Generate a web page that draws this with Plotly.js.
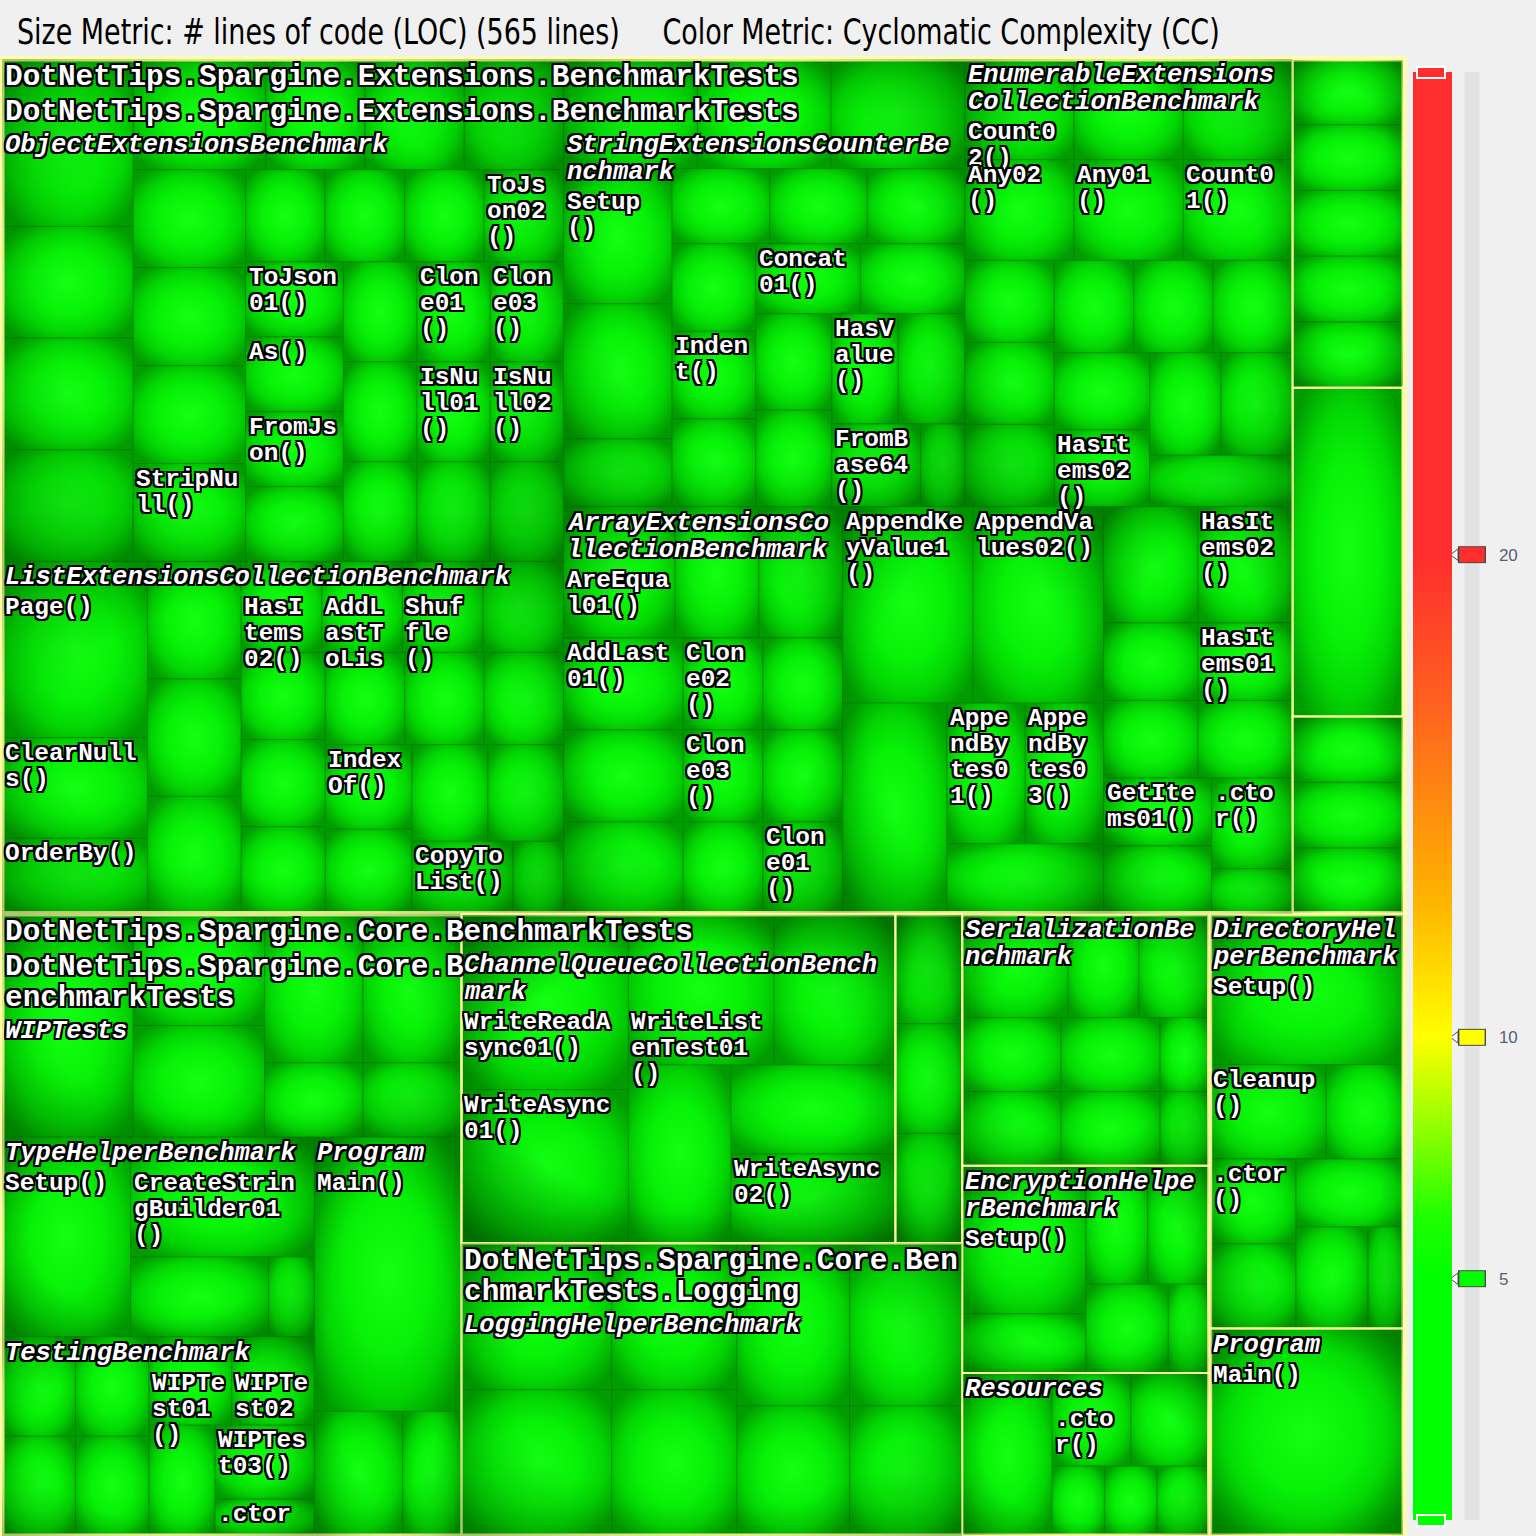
<!DOCTYPE html>
<html>
<head>
<meta charset="utf-8">
<script src="https://cdn.plot.ly/plotly-3.0.1.min.js"></script>
<style>
  html, body { margin: 0; padding: 0; background: #f0f0f0; }
  #chart { width: 1536px; height: 1536px; }
</style>
</head>
<body>
<div id="chart"></div>
<script>
// ---------------- DATA ----------------
const sizeMetricText = 'Size Metric: # lines of code (LOC)';
const colorMetricText = 'Color Metric: Cyclomatic Complexity (CC)';

const asmExtensions = 'DotNetTips.Spargine.Extensions.BenchmarkTests';
const asmCore = 'DotNetTips.Spargine.Core.BenchmarkTests';
const nsExtensions = 'DotNetTips.Spargine.Extensions.BenchmarkTests';
const nsCore = 'DotNetTips.Spargine.Core.BenchmarkTests';
const nsLogging = 'DotNetTips.Spargine.Core.BenchmarkTests.Logging';

// method names ('' = cell whose label is not drawn) and lines of code
const objectNames = ['', '', '', '', '', '', '', '', '', '', '', 'StripNull()', '', '', '', 'ToJson02()', 'ToJson01()', 'As()', 'FromJson()', '', '', 'Clone01()', 'Clone03()', '', '', 'IsNull01()', 'IsNull02()', '', ''];
const objectLoc   = [6, 4, 4, 4, 4, 3, 3, 3, 3, 3, 3, 3, 2, 2, 2, 2, 2, 2, 2, 2, 2, 2, 2, 2, 2, 2, 2, 2, 2];

const stringNames = ['', '', '', 'Setup()', '', '', '', '', '', '', 'Indent()', '', 'Concat01()', '', '', '', 'HasValue()', '', 'FromBase64()', ''];
const stringLoc   = [4, 4, 4, 4, 4, 2, 2, 2, 2, 2, 2, 2, 2, 2, 2, 2, 2, 2, 2, 1];

const enumerableNames = ['Count02()', '', '', 'Any02()', 'Any01()', 'Count01()', '', '', '', '', '', '', '', 'HasItems02()', '', '', ''];
const enumerableLoc   = [3, 3, 3, 3, 3, 3, 2, 2, 2, 2, 2, 2, 2, 2, 2, 2, 2];

const listNames = ['Page()', 'ClearNulls()', 'OrderBy()', '', '', '', 'HasItems02()', 'AddLastToList()', 'Shuffle()', '', '', '', '', '', '', '', 'IndexOf()', '', '', '', 'CopyToList()', ''];
const listLoc   = [7, 4, 3, 3, 3, 3, 2, 2, 2, 2, 2, 2, 2, 2, 2, 2, 2, 2, 2, 2, 2, 1];

const arrayNames = ['AreEqual01()', '', '', 'AddLast01()', '', '', 'Clone02()', '', 'Clone03()', '', '', 'Clone01()'];
const arrayLoc   = [4, 3, 3, 3, 3, 3, 2, 2, 2, 2, 2, 2];

const appendNames = ['AppendKeyValue1()', 'AppendValues02()', '', 'AppendBytes01()', 'AppendBytes03()', ''];
const appendLoc   = [7, 7, 6, 3, 3, 3];
const itemsNames = ['', 'HasItems02()', '', 'HasItems01()', '', '', 'GetItems01()', '', '.ctor()', ''];
const itemsLoc   = [3, 3, 2, 2, 2, 2, 2, 2, 2, 1];

const extStripANames = ['', '', '', '', ''];
const extStripALoc   = [2, 2, 2, 2, 2];
const extStripBNames = ['', '', ''];
const extStripBLoc   = [2, 2, 2];
const extStripCLoc   = 10;

const wipNames = ['', '', '', '', '', '', ''];
const wipLoc   = [8, 4, 4, 4, 4, 2, 2];
const typeHelperNames = ['Setup()', 'CreateStringBuilder01()', '', ''];
const typeHelperLoc   = [7, 6, 3, 1];
const testingNames = ['', '', '', '', 'WIPTest01()', 'WIPTest02()', '', 'WIPTest03()', '.ctor()'];
const testingLoc   = [2, 2, 2, 2, 2, 2, 2, 2, 1];
const programNames = ['Main()', '', ''];
const programLoc   = [11, 3, 2];
const channelNames = ['WriteReadAsync01()', 'WriteAsync01()', 'WriteListenTest01()', '', '', '', 'WriteAsync02()'];
const channelLoc   = [8, 7, 6, 5, 5, 4, 4];
const coreStripNames = ['', '', ''];
const coreStripLoc   = [2, 2, 2];
const loggingNames = ['', '', '', '', '', '', '', ''];
const loggingLoc   = [6, 6, 5, 5, 5, 5, 4, 4];
const serializationNames = ['', '', '', '', '', '', '', '', ''];
const serializationLoc   = [3, 2, 2, 2, 2, 2, 2, 1, 1];
const encryptionNames = ['Setup()', '', '', '', '', ''];
const encryptionLoc   = [5, 2, 2, 2, 2, 1];
const resourcesNames = ['', '.ctor()', '', '', '', ''];
const resourcesLoc   = [4, 2, 2, 1, 1, 1];
const directoryNames = ['Setup()', 'Cleanup()', '', '.ctor()', '', '', '', ''];
const directoryLoc   = [8, 3, 2, 2, 2, 2, 2, 1];
const program2Names = ['Main()'];
const program2Loc   = [11];

// colour metric scale (CC)
const ccRange = [0, 30];
const ccTicks = [5, 10, 20];
const ccHandleColors = ['#00ff00', '#ffff00', '#ff2d2d'];
const ccRangeHandleColors = ['#00ff00', '#ff2d2d'];
const ccColorscale = [
  [0, '#00ff00'], [0.1667, '#00ff00'], [0.21, '#20ff00'], [0.27, '#90ff00'],
  [0.3333, '#ffff00'], [0.427, '#ffb400'], [0.567, '#ff5f20'], [0.6667, '#ff2d2d'], [1, '#ff2d2d']
];

// ---------------- BUILD HIERARCHY ----------------
const ids = [], labels = [], parents = [], values = [], names = [], kinds = [];
function addNode(id, label, parent, value, kind) {
  ids.push(id); labels.push(label); parents.push(parent);
  values.push(value); names.push(label); kinds.push(kind);
}
function addGroup(parent, id, label, mNames, locs, kind) {
  addNode(id, label, parent, 0, kind);
  mNames.forEach((n, i) => addNode(id + '|' + i, n, id, locs[i], 'method'));
}

addNode('A', asmExtensions, '', 0, 'asm');
addNode('A|ns', nsExtensions, 'A', 0, 'ns');
addGroup('A|ns', 'A|obj', 'ObjectExtensionsBenchmark', objectNames, objectLoc, 'class');
addGroup('A|ns', 'A|str', 'StringExtensionsCounterBenchmark', stringNames, stringLoc, 'class');
addGroup('A|ns', 'A|enu', 'EnumerableExtensionsCollectionBenchmark', enumerableNames, enumerableLoc, 'class');
addGroup('A|ns', 'A|lst', 'ListExtensionsCollectionBenchmark', listNames, listLoc, 'class');
addGroup('A|ns', 'A|arr', 'ArrayExtensionsCollectionBenchmark', arrayNames, arrayLoc, 'class');
addGroup('A|ns', 'A|app', '', appendNames, appendLoc, 'class');
addGroup('A|ns', 'A|itm', '', itemsNames, itemsLoc, 'class');
addGroup('A', 'A|sa', '', extStripANames, extStripALoc, 'box');
addGroup('A', 'A|sb', '', extStripBNames, extStripBLoc, 'box');
addNode('A|sc', '', 'A', extStripCLoc, 'boxleaf');

addNode('B', asmCore, '', 0, 'asm');
addNode('B|ns', nsCore, 'B', 0, 'ns');
addGroup('B|ns', 'B|wip', 'WIPTests', wipNames, wipLoc, 'class');
addGroup('B|ns', 'B|typ', 'TypeHelperBenchmark', typeHelperNames, typeHelperLoc, 'class');
addGroup('B|ns', 'B|tst', 'TestingBenchmark', testingNames, testingLoc, 'class');
addGroup('B|ns', 'B|prg', 'Program', programNames, programLoc, 'class');
addNode('B|cq', '', 'B', 0, 'box');
addGroup('B|cq', 'B|chn', 'ChannelQueueCollectionBenchmark', channelNames, channelLoc, 'boxclass');
addGroup('B|cq', 'B|s', '', coreStripNames, coreStripLoc, 'box');
addNode('B|log', nsLogging, 'B', 0, 'ns');
addGroup('B|log', 'B|logh', 'LoggingHelperBenchmark', loggingNames, loggingLoc, 'class');
addGroup('B', 'B|ser', 'SerializationBenchmark', serializationNames, serializationLoc, 'boxclass');
addGroup('B', 'B|enc', 'EncryptionHelperBenchmark', encryptionNames, encryptionLoc, 'boxclass');
addGroup('B', 'B|res', 'Resources', resourcesNames, resourcesLoc, 'boxclass');

addNode('C', '', '', 0, 'asm');
addGroup('C', 'C|dir', 'DirectoryHelperBenchmark', directoryNames, directoryLoc, 'boxclass');
addGroup('C', 'C|prg', 'Program', program2Names, program2Loc, 'boxclass');

const totalLoc = values.reduce((a, b) => a + b, 0);

// ---------------- STYLE ----------------
const W = 1536, H = 1536;
const CELL = '#0bdc0b';
const YELLOW = '#ffffa0';
// font: px size; wrapW: width allowed per character when wrapping
const style = {
  asm:      {border: YELLOW, bw: 5, font: 29.4, wrapW: 17.2, italic: false},
  ns:       {border: YELLOW, bw: 2, font: 29.4, wrapW: 17.2, italic: false},
  box:      {border: YELLOW, bw: 2, font: 25.5, wrapW: 15.6, italic: true},
  boxclass: {border: YELLOW, bw: 2, font: 25.5, wrapW: 15.6, italic: true},
  class:    {border: 'rgba(0,0,0,0)', bw: 0, font: 25.5, wrapW: 15.6, italic: true},
  method:   {border: 'rgba(0,0,0,0)', bw: 0, font: 24.4, wrapW: 15.0, italic: false},
  boxleaf:  {border: YELLOW, bw: 2, font: 24.4, wrapW: 15.0, italic: false}
};
const outline = '2px 2px 0 #000, -2px -2px 0 #000, 2px -2px 0 #000, -2px 2px 0 #000, 0 2px 0 #000, 0 -2px 0 #000, 2px 0 0 #000, -2px 0 0 #000';
const treeDomain = {x: [2 / W, 1404 / W], y: [0, 1 - 59 / H]};
const isLeaf = ids.map(id => !parents.includes(id));
const leafSet = new Set(ids.filter((id, i) => isLeaf[i]));
const classSet = new Set(ids.filter((id, i) => kinds[i] === 'class' || kinds[i] === 'boxclass' || kinds[i] === 'box'));

const cells = {
  type: 'treemap', ids: ids, labels: labels, parents: parents, values: values,
  branchvalues: 'remainder', sort: true, textinfo: 'none',
  marker: {
    colors: ids.map(() => CELL),
    line: {color: isLeaf.map(l => l ? 'rgba(0,110,0,0.45)' : 'rgba(0,0,0,0)'), width: isLeaf.map(l => l ? 1 : 0)},
    pad: {t: 0, l: 0, r: 0, b: 0}
  },
  tiling: {packing: 'squarify', pad: 0},
  pathbar: {visible: false}, domain: treeDomain, hoverinfo: 'skip'
};
const borders = {
  type: 'treemap', ids: ids, labels: labels, parents: parents, values: values,
  branchvalues: 'remainder', sort: true, textinfo: 'none',
  marker: {
    colors: ids.map(() => 'rgba(0,0,0,0)'),
    line: {color: kinds.map(k => style[k].border), width: kinds.map(k => style[k].bw)},
    pad: {t: 0, l: 0, r: 0, b: 0}
  },
  tiling: {packing: 'squarify', pad: 0},
  pathbar: {visible: false}, domain: treeDomain, hoverinfo: 'skip'
};

// colour-scale decorations (hidden axes map CC values onto the bar height)
const track = {
  type: 'scatter', mode: 'lines', x: [1472, 1472], y: ccRange,
  line: {color: '#e3e3e3', width: 15}, hoverinfo: 'skip', showlegend: false, cliponaxis: false
};
const handleOutline = {
  type: 'scatter', mode: 'markers', x: ccTicks.map(() => 1472), y: ccTicks,
  marker: {symbol: 'line-ew', size: 20, color: '#4a4a4a', line: {width: 17, color: '#4a4a4a'}},
  hoverinfo: 'skip', showlegend: false, cliponaxis: false
};
const handleFill = {
  type: 'scatter', mode: 'markers', x: ccTicks.map(() => 1472), y: ccTicks,
  marker: {symbol: 'line-ew', size: 18, color: ccHandleColors, line: {width: 15, color: ccHandleColors}},
  hoverinfo: 'skip', showlegend: false, cliponaxis: false
};
const handlePointer = {
  type: 'scatter', mode: 'markers', x: ccTicks.map(() => 1455.5), y: ccTicks,
  marker: {symbol: 'triangle-left', size: 10, color: '#ffffff', line: {width: 1, color: '#4a4a4a'}},
  hoverinfo: 'skip', showlegend: false, cliponaxis: false
};
const scaleBar = {
  type: 'scatter', mode: 'markers', x: [1400, 1400], y: ccRange,
  marker: {
    color: ccRange, cmin: ccRange[0], cmax: ccRange[1], colorscale: ccColorscale, opacity: 0,
    showscale: true,
    colorbar: {
      x: 1413 / W, xanchor: 'left', xpad: 0, ypad: 0,
      y: 1 - 796 / H, yanchor: 'middle', len: 1448 / H, lenmode: 'fraction',
      thickness: 39, thicknessmode: 'pixels', outlinewidth: 0,
      tickvals: ccTicks, ticks: 'outside', ticklen: 44, tickcolor: 'rgba(0,0,0,0)',
      tickfont: {family: 'Liberation Sans, Arial, sans-serif', size: 17, color: '#55607a'}
    }
  },
  hoverinfo: 'skip', showlegend: false
};
const rangeHandleAnns = ccRange.map((v, i) => ({
  xref: 'paper', x: 1431 / W, xanchor: 'center', yref: 'y', y: v, yanchor: 'middle',
  text: '\u00a0', width: 26, height: 9, bgcolor: ccRangeHandleColors[i],
  bordercolor: '#ffffff', borderwidth: 2, borderpad: 0, showarrow: false
}));

const layout = {
  width: W, height: H,
  margin: {l: 0, r: 0, t: 0, b: 0},
  paper_bgcolor: '#f0f0f0', plot_bgcolor: 'rgba(0,0,0,0)',
  showlegend: false,
  title: {
    text: sizeMetricText + ' (' + totalLoc + ' lines)' + '\u00a0\u00a0\u00a0\u00a0\u00a0' + colorMetricText,
    x: 17 / W, xanchor: 'left', xref: 'container',
    y: 1 - 32 / H, yanchor: 'middle', yref: 'container',
    font: {family: 'DejaVu Sans Condensed, Liberation Sans Narrow, Liberation Sans, Arial, sans-serif', size: 35, color: '#000000'}
  },
  xaxis: {domain: [1400 / W, 1], range: [1400, 1536], visible: false, fixedrange: true},
  yaxis: {domain: [1 - 1520 / H, 1 - 72 / H], range: ccRange, visible: false, fixedrange: true},
  annotations: rangeHandleAnns
};

// ---------------- LABELS: top-left of each cell, wrapped to its width, stacked under ancestor labels ----------------
function wrapName(name, n) {
  let s = name, tail = '';
  if (s.endsWith('()')) { tail = '()'; s = s.slice(0, -2); }
  const toks = Array.from(s); if (tail) toks.push(tail);
  const lines = []; let cur = '';
  toks.forEach(t => {
    if (cur.length && cur.length + t.length > n) { lines.push(cur); cur = t; } else { cur += t; }
  });
  if (cur) lines.push(cur);
  return lines;
}
function ptId(pt) {
  if (!pt) return null;
  if (pt.data && pt.data.data && pt.data.data.id !== undefined) return pt.data.data.id;
  if (pt.data && pt.data.id !== undefined) return pt.data.id;
  return pt.id;
}
function traceSlices(gd, k) {
  const traceEls = gd.querySelectorAll('.treemaplayer g.trace');
  const root = traceEls.length > k ? traceEls[k] : gd;
  return Array.from(root.querySelectorAll('g.slice'));
}
function placeLabels(gd) {
  const rects = {};
  traceSlices(gd, 0).forEach(g => {
    const id = ptId(g.__data__);
    const p = g.querySelector('path');
    if (id == null || !p) return;
    const b = p.getBoundingClientRect();
    rects[id] = {x0: b.left, y0: b.top, x1: b.right, y1: b.bottom};
  });
  const idx = {}; ids.forEach((id, i) => { idx[id] = i; });
  const depth = ids.map(id => { let d = 0, p = parents[idx[id]]; while (p) { d++; p = parents[idx[p]]; } return d; });
  const order = ids.map((_, i) => i).sort((a, b) => depth[a] - depth[b] || a - b);
  const placed = {};
  const lineBoxes = [];   // every candidate text line
  order.forEach(i => {
    const name = names[i]; const r = rects[ids[i]];
    if (!name || !r) return;
    const st = style[kinds[i]];
    const fs = st.font, cw = 0.6 * fs, lh = Math.round(fs * 1.07);
    const n = Math.floor((r.x1 - r.x0 - 6) / st.wrapW);
    if (n < 2) return;
    const lines = wrapName(name, n);
    const w = Math.max.apply(null, lines.map(s => s.length)) * cw;
    const lx = r.x0 + 2;
    let top = r.y0 + 1;
    const anc = []; let p = parents[i];
    while (p) { if (placed[p]) anc.push(placed[p]); p = parents[idx[p]]; }
    const hFull = lines.length * lh + 4;
    let moved = true, guard = 0;
    while (moved && guard++ < 20) {
      moved = false;
      anc.forEach(b => {
        if (lx < b.x1 && b.x0 < lx + w && top < b.y1 && b.y0 < top + hFull) { top = b.y1; moved = true; }
      });
    }
    let kept = 0;
    lines.forEach((s, j) => {
      const y = top + j * lh;
      if (y >= r.y1 - 3) return;                 // starts outside its cell: clipped
      const inside = y + 0.6 * lh <= r.y1 + 2;
      lineBoxes.push({owner: i, text: s, x0: lx, x1: lx + s.length * cw, y0: y, y1: y + lh, inside: inside, st: st});
      kept++;
    });
    if (kept) placed[ids[i]] = {x0: lx, x1: lx + w, y0: top, y1: top + kept * lh + 4};
  });
  // a line that spills below its cell is dropped when it would cover another label or leave the page
  const shown = lineBoxes.filter(b => {
    if (b.inside) return true;
    if (b.y1 > H - 2) return false;
    return !lineBoxes.some(o => o.owner !== b.owner && o.inside &&
      b.x0 < o.x1 && o.x0 < b.x1 && b.y0 < o.y1 - 4 && o.y0 < b.y1 - 4);
  });
  return shown.map(b => ({
    xref: 'paper', yref: 'paper', x: b.x0 / W, y: 1 - b.y0 / H,
    xanchor: 'left', yanchor: 'top', align: 'left', showarrow: false, borderpad: 0,
    text: b.text,
    font: {family: 'Liberation Mono, DejaVu Sans Mono, monospace', size: b.st.font, color: '#ffffff',
           weight: 'bold', style: b.st.italic ? 'italic' : 'normal', shadow: outline}
  }));
}

// cushion shading: a radial gradient in each method cell, plus a soft darker rim on each type
function cushions(gd) {
  const svg = gd.querySelector('svg.main-svg');
  if (!svg) return;
  const NS = 'http://www.w3.org/2000/svg';
  const defs = document.createElementNS(NS, 'defs');
  function gradient(id, r, stops) {
    const g = document.createElementNS(NS, 'radialGradient');
    g.setAttribute('id', id); g.setAttribute('cx', '0.5'); g.setAttribute('cy', '0.5'); g.setAttribute('r', r);
    stops.forEach(([o, c, a]) => {
      const s = document.createElementNS(NS, 'stop');
      s.setAttribute('offset', o); s.setAttribute('stop-color', c); s.setAttribute('stop-opacity', a);
      g.appendChild(s);
    });
    defs.appendChild(g);
  }
  gradient('cushion', '0.62', [[0, '#14ff14', 1], [0.45, '#08f208', 1], [0.72, '#03d603', 1], [1, '#009c00', 1]]);
  gradient('typeRim', '0.68', [[0, '#004400', 0], [0.6, '#004400', 0], [1, '#004400', 0.32]]);
  svg.insertBefore(defs, svg.firstChild);
  traceSlices(gd, 0).forEach(g => {
    const id = ptId(g.__data__);
    const p = g.querySelector('path');
    if (p && leafSet.has(id)) p.style.setProperty('fill', 'url(#cushion)');
  });
  traceSlices(gd, 1).forEach(g => {
    const id = ptId(g.__data__);
    const p = g.querySelector('path');
    if (p && classSet.has(id)) { p.style.setProperty('fill', 'url(#typeRim)'); p.style.setProperty('fill-opacity', '1'); }
  });
}

function condenseTitle(gd) {
  const g = gd.querySelector('.g-gtitle');
  const t = g && g.querySelector('text');
  if (!t) return;
  const bb = t.getBBox();
  const target = 1203;
  if (bb.width > 0) {
    const s = Math.min(1, target / bb.width);
    const x0 = bb.x;
    g.setAttribute('transform', (g.getAttribute('transform') || '') +
      ' translate(' + x0 + ',0) scale(' + s + ',1) translate(' + (-x0) + ',0)');
  }
}

const gd = document.getElementById('chart');
Plotly.newPlot(gd,
  [cells, borders, track, handleOutline, handleFill, handlePointer, scaleBar],
  layout, {displayModeBar: false, staticPlot: true}
).then(() => {
  const anns = placeLabels(gd);
  return Plotly.relayout(gd, {annotations: rangeHandleAnns.concat(anns)});
}).then(() => { cushions(gd); condenseTitle(gd); });
</script>
</body>
</html>
